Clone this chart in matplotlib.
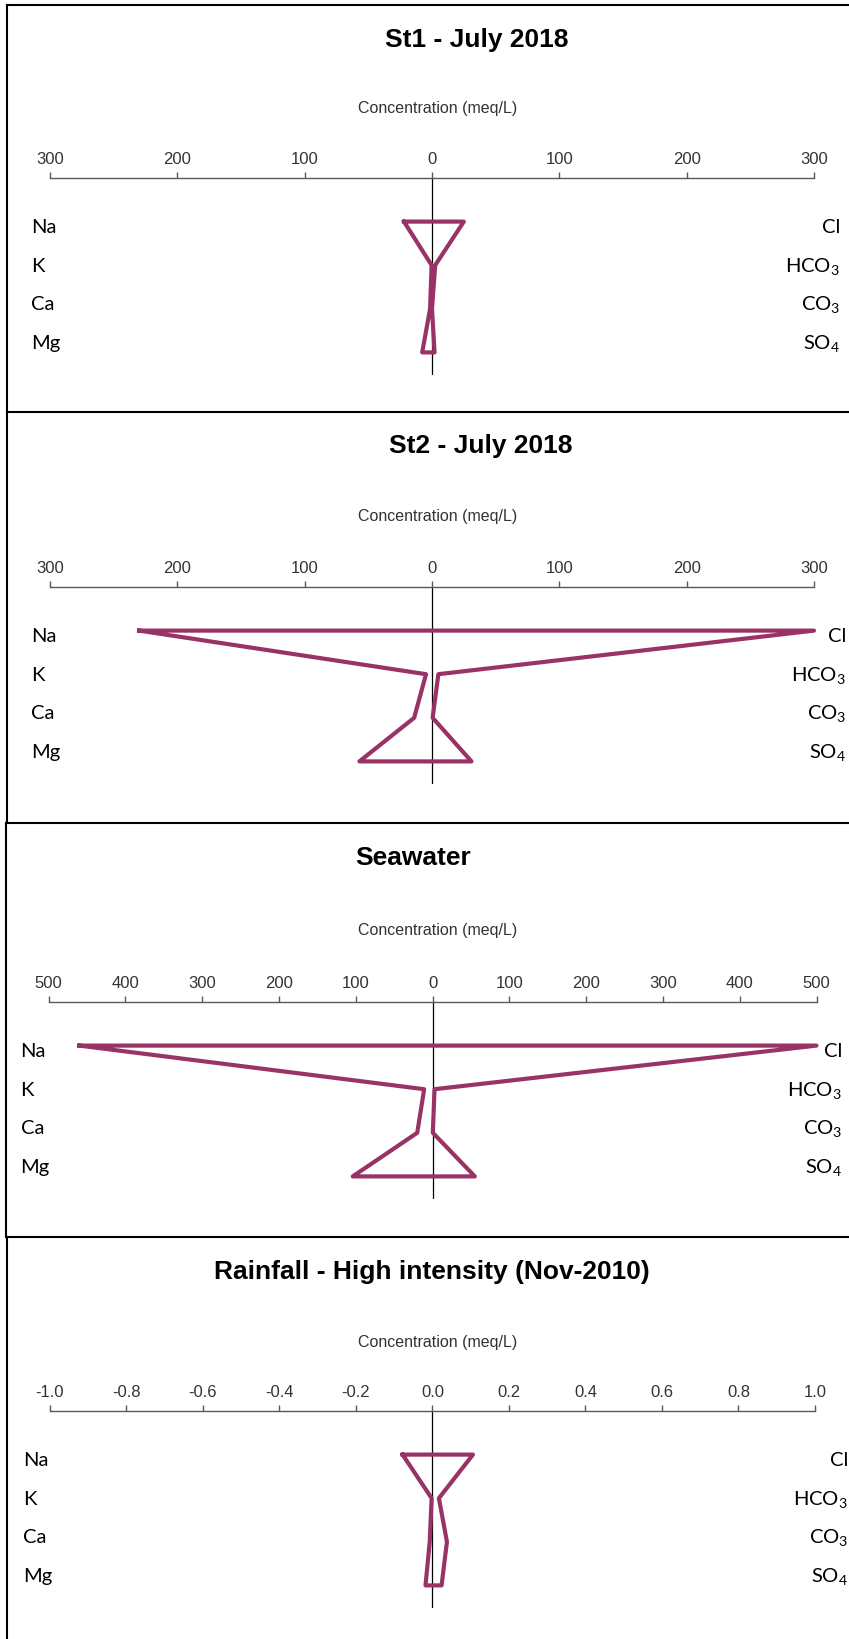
import matplotlib
matplotlib.use("Agg")
import matplotlib.pyplot as plt
from matplotlib.lines import Line2D
from matplotlib.transforms import blended_transform_factory
import numpy as np

# stiff diagram data (meq/L): cations plotted left, anions right
titles = ["St1 - July 2018", "St2 - July 2018", "Seawater",
          "Rainfall - High intensity (Nov-2010)"]
cation_names = ["Na", "K", "Ca", "Mg"]
anion_names = ["Cl", "HCO$_3$", "CO$_3$", "SO$_4$"]

st1_cations = [22, 0.3, 1.5, 7.7]
st1_anions = [25, 2.5, 0.0, 2.0]
st2_cations = [230, 4.7, 14, 57]
st2_anions = [300, 5.0, 0.5, 31]
sea_cations = [460, 11, 20, 104]
sea_anions = [500, 2.5, 0.3, 55]
rain_cations = [0.078, 0.002, 0.007, 0.018]
rain_anions = [0.106, 0.017, 0.038, 0.024]

xmax = [300, 300, 500, 1.0]
tick_values = [np.arange(-300, 301, 100), np.arange(-300, 301, 100),
               np.arange(-500, 501, 100), np.linspace(-1.0, 1.0, 11)]
tick_labels = [["300", "200", "100", "0", "100", "200", "300"],
               ["300", "200", "100", "0", "100", "200", "300"],
               ["500", "400", "300", "200", "100", "0", "100", "200", "300", "400", "500"],
               ["-1.0", "-0.8", "-0.6", "-0.4", "-0.2", "0.0", "0.2", "0.4", "0.6", "0.8", "1.0"]]

cations = [st1_cations, st2_cations, sea_cations, rain_cations]
anions = [st1_anions, st2_anions, sea_anions, rain_anions]

# layout in pixels (figure is 849 x 1639 at 100 dpi)
W, H = 849, 1639
ax_left = [50, 50, 48.7, 49.8]
ax_right = [814, 814, 816.5, 815]
ax_top = [178, 587, 1002, 1411]
row_px = 43.6
title_xy = [(477, 40), (481, 446), (413, 858), (431.5, 1272)]
label_y = [109, 517, 930, 1342]
left_lab_x = [31, 31, 20.6, 22.7]
right_lab_x = [840, 846, 842, 848]
box_top = [5, 412, 823, 1237]
box_bottom = [412, 823, 1237, 1639]
box_left = [7.3, 7.3, 5.7, 7.3]

line_color = "#993366"
grey = "#333333"

plt.rcParams["mathtext.default"] = "regular"

fig = plt.figure(figsize=(W / 100, H / 100), dpi=100)

for i in range(4):
    ylo, yhi = -1.0, 3.52
    height = (yhi - ylo) * row_px
    ax = fig.add_axes([ax_left[i] / W, 1 - (ax_top[i] + height) / H,
                       (ax_right[i] - ax_left[i]) / W, height / H])
    ax.set_xlim(-xmax[i], xmax[i])
    ax.set_ylim(yhi, ylo)
    ax.set_facecolor("none")
    for s in ["left", "right", "bottom"]:
        ax.spines[s].set_visible(False)
    ax.spines["top"].set_color("#595959")
    ax.spines["top"].set_linewidth(1.0)
    ax.xaxis.tick_top()
    ax.set_xticks(tick_values[i])
    ax.set_xticklabels(tick_labels[i], fontfamily="Liberation Sans", fontsize=12, color=grey)
    ax.tick_params(axis="x", direction="out", length=4, width=1.0, color="#595959", pad=4)
    ax.set_yticks([])

    ax.axvline(0, color="black", lw=0.9, zorder=1)

    # closed stiff polygon
    rows = np.arange(4)
    xs = np.concatenate([-np.array(cations[i], dtype=float), np.array(anions[i], dtype=float)[::-1]])
    ys = np.concatenate([rows, rows[::-1]])
    xs = np.append(xs, xs[0])
    ys = np.append(ys, ys[0])
    ax.plot(xs, ys, color=line_color, lw=3.0, solid_joinstyle="round",
            clip_on=False, zorder=3)

    # ion labels
    tr = blended_transform_factory(fig.transFigure, ax.transData)
    for k in range(4):
        yk = 0.14 + k * 0.883
        ax.text(left_lab_x[i] / W, yk, cation_names[k], transform=tr, ha="left",
                va="center", fontfamily="Lato", fontsize=14.5, clip_on=False)
        ax.text(right_lab_x[i] / W, yk, anion_names[k], transform=tr, ha="right",
                va="center", fontfamily="Lato", fontsize=14.5, clip_on=False)

    fig.text(title_xy[i][0] / W, 1 - title_xy[i][1] / H, titles[i], ha="center",
             va="center", fontfamily="Liberation Sans", fontweight="bold", fontsize=19)
    fig.text(438 / W, 1 - label_y[i] / H, "Concentration (meq/L)", ha="center",
             va="center", fontfamily="Liberation Sans", fontsize=11.5, color=grey)

    # panel frame (top and left edges)
    fig.add_artist(Line2D([box_left[i] / W, 1], [1 - box_top[i] / H] * 2,
                          transform=fig.transFigure, color="black", lw=1.5))
    fig.add_artist(Line2D([box_left[i] / W] * 2, [1 - box_top[i] / H, 1 - box_bottom[i] / H],
                          transform=fig.transFigure, color="black", lw=1.5))

fig.savefig("out.png", dpi=100)
